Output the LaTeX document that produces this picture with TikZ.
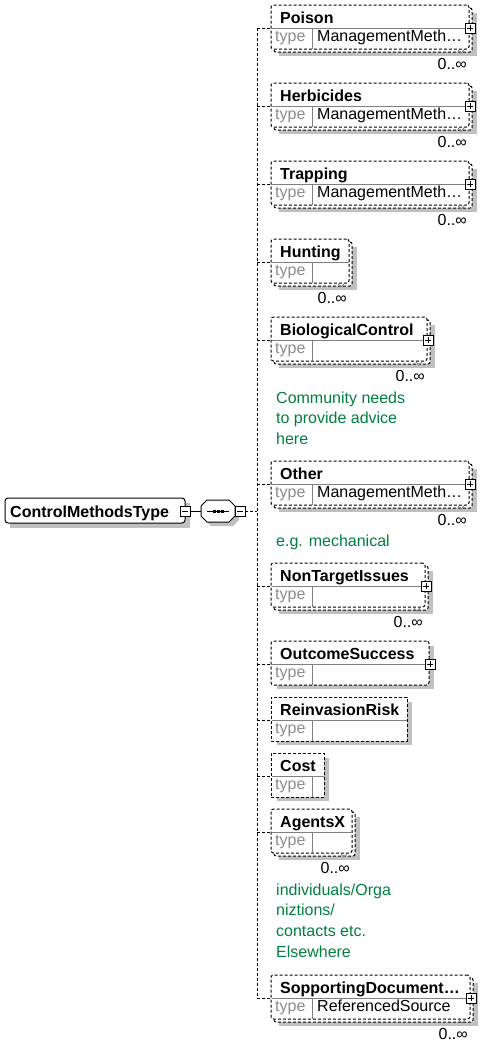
\documentclass[tikz,border=0pt]{standalone}
\usepackage{fontspec}
\setmainfont{Liberation Sans}
\definecolor{shadowc}{RGB}{192,192,192}
\definecolor{divc}{RGB}{128,128,128}
\definecolor{typec}{RGB}{140,140,140}
\definecolor{notec}{RGB}{0,128,64}
\tikzset{
  dsh/.style={line width=1pt, dash pattern=on 3pt off 2pt},
  ebox/.style={dsh, draw=black, fill=white, inner sep=0pt, outer sep=0pt},
  pmbox/.style={draw, line width=0.8pt, fill=white, minimum size=10pt, inner sep=0pt, outer sep=0pt},
  nametxt/.style={inner sep=0pt, anchor=base west, font=\fontsize{16}{16}\selectfont\bfseries},
  typetxt/.style={inner sep=0pt, anchor=base west, text=typec, font=\fontsize{16}{16}\selectfont},
  valtxt/.style={inner sep=0pt, anchor=base west, font=\fontsize{16}{16}\selectfont},
  multtxt/.style={inner sep=0pt, anchor=base east, font=\fontsize{16}{16}\selectfont},
  notetxt/.style={inner sep=0pt, anchor=base west, text=notec, font=\fontsize{16}{16}\selectfont},
}
\newcommand\plusbox[2]{%
  \draw[line width=0.8pt, fill=white] (#1-5,#2-5) rectangle (#1+5,#2+5);
  \draw[line width=0.8pt] (#1-3,#2) -- (#1+3,#2) (#1,#2-3) -- (#1,#2+3);}
% #1 id, #2 top, #3 right, #4 name, #5 type, #6 double, #7 plus, #8 mult, #9 rounded
\newcommand\xelem[9]{%
  \pgfmathsetmacro\elw{#3-271}%
  \ifnum#6=1
    \fill[shadowc] (279,#2+8) rectangle (#3+8,#2+51);
    \draw[dsh, fill=white, rounded corners=2pt] (274,#2+3) rectangle (#3+3,#2+47);
  \else
    \fill[shadowc] (277,#2+5) rectangle (#3+5,#2+48);
  \fi
  \ifnum#9=1
    \node[ebox, rounded corners=2.5pt, minimum width=\elw pt, minimum height=44pt, anchor=north west] (#1) at (271,#2) {};
  \else
    \node[ebox, minimum width=\elw pt, minimum height=44pt, anchor=north west] (#1) at (271,#2) {};
  \fi
  \draw[divc, line width=1pt] (271.5,#2+23) -- (#3-0.5,#2+23);
  \draw[divc, line width=1pt] (312,#2+23) -- (312,#2+43.5);
  \node[nametxt] at (280,#2+18) {#4};
  \node[typetxt] at (275,#2+36) {type};
  \node[valtxt] at (317,#2+36) {#5};
  \ifnum#7=1 \plusbox{#3+1}{#2+23}\fi
  \ifnum#8=1
    \node[multtxt] at (#3-2,#2+64) {0..∞};
    \draw[line width=0.8pt, gray] (#3-11,#2+45) -- (#3-8,#2+48) -- (#3-5,#2+45);
  \fi
  \coordinate (#1s) at (271,#2+23);
  \draw[dsh] (257,#2+23) -- (#1s);
}
\begin{document}
\begin{tikzpicture}[x=1pt, y=-1pt]
\useasboundingbox[fill=white] (0,0) rectangle (495,1045);
% root
\fill[shadowc] (10,503) rectangle (190,528);
\node[draw, line width=1pt, fill=white, rounded corners=3pt, minimum width=180pt, minimum height=25pt, inner sep=0pt, outer sep=0pt] (root) at (95,510.5) {};
\node[nametxt] (roottxt) at (10,517) {ControlMethodsType};
\node[pmbox] (rm) at (185,511) {};
\draw[line width=0.8pt] (182,511) -- (188,511);
% sequence compositor
\fill[shadowc] (211,504) -- (233,504) -- (239,510) -- (239,520) -- (233,526) -- (211,526) -- (205,520) -- (205,510) -- cycle;
\node[minimum width=34pt, minimum height=22pt, inner sep=0pt, outer sep=0pt] (seq) at (218,511) {};
\draw[line width=1pt, fill=white] (207,500) -- (229,500) -- (235,506) -- (235,516) -- (229,522) -- (207,522) -- (201,516) -- (201,506) -- cycle;
\draw[line width=1pt] (207,511) -- (229,511);
\fill (212.5,509.5) rectangle (215.5,512.5);
\fill (216.5,509.5) rectangle (219.5,512.5);
\fill (220.5,509.5) rectangle (223.5,512.5);
\node[pmbox] (sm) at (240,511) {};
\draw[line width=0.8pt] (237,511) -- (243,511);
\draw[line width=1pt] (rm.east) -- (seq.west);
\coordinate (spm) at (257,511);
\draw[dsh] (sm.east) -- (spm);
% spine
\coordinate (spt) at (257,28);
\coordinate (spb) at (257,998);
\draw[dsh] (spt) -- (spb);
% elements
\xelem{poison}{5}{469}{Poison}{ManagementMeth…}{1}{1}{1}{1}
\xelem{herb}{83}{469}{Herbicides}{ManagementMeth…}{1}{1}{1}{1}
\xelem{trap}{161}{469}{Trapping}{ManagementMeth…}{1}{1}{1}{1}
\xelem{hunt}{239}{349}{Hunting}{}{1}{0}{1}{1}
\xelem{bio}{317}{427}{BiologicalControl}{}{1}{1}{1}{1}
\node[notetxt] (n1) at (276,403) {Community needs};
\node[notetxt] (n2) at (276,423.7) {to provide advice};
\node[notetxt] (n3) at (276,444.4) {here};
\xelem{other}{461}{469}{Other}{ManagementMeth…}{1}{1}{1}{1}
\node[notetxt] (n4) at (276,546) {e.g. mechanical};
\xelem{nti}{563}{425}{NonTargetIssues}{}{1}{1}{1}{1}
\xelem{outc}{641}{429}{OutcomeSuccess}{}{0}{1}{0}{1}
\xelem{reinv}{697}{407}{ReinvasionRisk}{}{0}{0}{0}{0}
\xelem{cost}{753}{324}{Cost}{}{0}{0}{0}{0}
\xelem{agents}{809}{352}{AgentsX}{}{1}{0}{1}{1}
\node[notetxt] (n5) at (276,895) {individuals/Orga};
\node[notetxt] (n6) at (276,915.7) {niztions/};
\node[notetxt] (n7) at (276,936.4) {contacts etc.};
\node[notetxt] (n8) at (276,957) {Elsewhere};
\xelem{supp}{975}{470}{SopportingDocument…}{ReferencedSource}{1}{1}{1}{1}
\end{tikzpicture}
\end{document}
